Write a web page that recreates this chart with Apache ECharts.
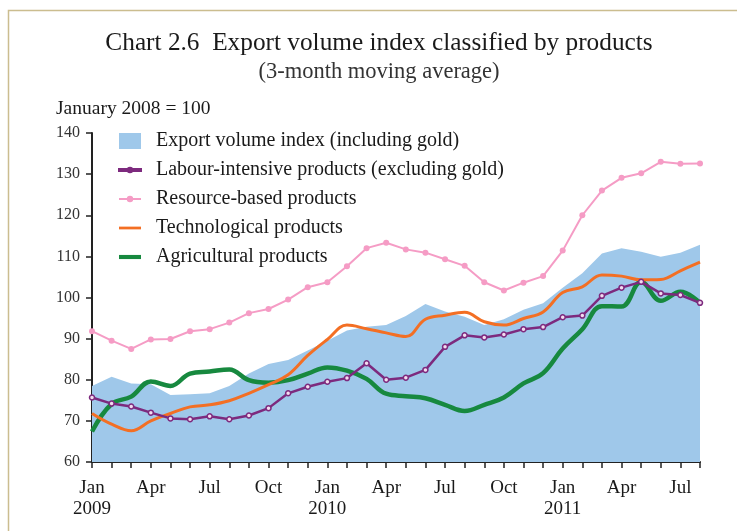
<!DOCTYPE html>
<html>
<head>
<meta charset="utf-8">
<script src="https://cdn.jsdelivr.net/npm/echarts@6/dist/echarts.min.js"></script>
<style>
	html, body { margin: 0; padding: 0; background: #fff; }
	#main { width: 737px; height: 531px; }
</style>
</head>
<body>
<div id="main"></div>
<script>
	// categories, Jan 2009 - Aug 2011
	var categories = [
		'Jan 2009', 'Feb 2009', 'Mar 2009', 'Apr 2009', 'May 2009', 'Jun 2009',
		'Jul 2009', 'Aug 2009', 'Sep 2009', 'Oct 2009', 'Nov 2009', 'Dec 2009',
		'Jan 2010', 'Feb 2010', 'Mar 2010', 'Apr 2010', 'May 2010', 'Jun 2010',
		'Jul 2010', 'Aug 2010', 'Sep 2010', 'Oct 2010', 'Nov 2010', 'Dec 2010',
		'Jan 2011', 'Feb 2011', 'Mar 2011', 'Apr 2011', 'May 2011', 'Jun 2011',
		'Jul 2011', 'Aug 2011'
	];
	var yTicks = [60, 140, 10]; // min, max, step

	var exportIndex = [78.5, 80.7, 79.1, 78.9, 76.3, 76.5, 76.7, 78.5, 81.5, 83.8, 84.8, 87.1,
		89.5, 92.0, 92.9, 93.3, 95.5, 98.4, 96.6, 95.3, 93.3, 94.7, 97.0, 98.6,
		102.4, 105.9, 110.7, 112.0, 111.1, 109.9, 110.9, 112.8];
	var labour = [75.7, 74.2, 73.5, 72.0, 70.6, 70.4, 71.1, 70.4, 71.3, 73.1, 76.7, 78.3,
		79.5, 80.4, 84.0, 80.0, 80.5, 82.4, 88.0, 90.8, 90.3, 91.0, 92.3, 92.8,
		95.2, 95.6, 100.4, 102.4, 103.8, 101.0, 100.6, 98.7];
	var resource = [91.8, 89.5, 87.5, 89.8, 89.9, 91.8, 92.3, 93.9, 96.2, 97.2, 99.5, 102.5,
		103.7, 107.6, 112.0, 113.3, 111.7, 110.9, 109.3, 107.7, 103.7, 101.7, 103.6, 105.2,
		111.4, 120.0, 126.0, 129.1, 130.2, 133.0, 132.5, 132.6];
	var techno = [71.8, 69.2, 67.6, 70.0, 71.8, 73.4, 73.9, 74.9, 76.7, 78.8, 81.2, 85.9,
		89.8, 93.3, 92.4, 91.4, 90.5, 94.7, 95.7, 96.4, 94.1, 93.3, 94.9, 96.5,
		101.2, 102.6, 105.5, 105.2, 104.3, 104.4, 106.5, 108.6];
	var agri = [67.4, 74.1, 75.9, 79.6, 78.5, 81.5, 82.0, 82.5, 79.9, 79.3, 79.9, 81.5,
		83.0, 82.2, 80.2, 76.6, 76.0, 75.5, 73.9, 72.4, 73.9, 75.7, 79.1, 81.6,
		87.6, 92.3, 97.9, 97.8, 103.8, 99.2, 101.4, 98.7];

	var serif = '"Liberation Serif", "DejaVu Serif", serif';
	var ink = '#1a1a1a';

	// 图例图标：线 + 圆点
	var iconDotSmall = 'path://M0,2.5 L24,2.5 L24,4.5 L0,4.5 Z M9.5,3.5 A2.5,2.5 0 1,1 14.5,3.5 A2.5,2.5 0 1,1 9.5,3.5 Z';
	var iconDotBig = 'path://M0,2.5 L24,2.5 L24,4.5 L0,4.5 Z M8.5,3.5 A3.5,3.5 0 1,1 15.5,3.5 A3.5,3.5 0 1,1 8.5,3.5 Z';
	var iconLineMid = 'path://M0,0 L24,0 L24,3 L0,3 Z';
	var iconLineThick = 'path://M0,0 L24,0 L24,4.5 L0,4.5 Z';

	var myChart = echarts.init(document.getElementById('main'));

	option = {
		backgroundColor: '#fff',
		animation: false,
		textStyle: { fontFamily: serif, color: ink },
		graphic: [
			{
				type: 'polyline',
				shape: { points: [[8.5, 540], [8.5, 10.5], [740, 10.5]] },
				style: { stroke: '#cbbd8f', lineWidth: 1.5, fill: null }
			},
			{
				type: 'text', x: 379, y: 43,
				style: { text: 'Chart 2.6  Export volume index classified by products', font: '25.3px ' + serif, fill: ink, textAlign: 'center', textVerticalAlign: 'middle' }
			},
			{
				type: 'text', x: 379, y: 72,
				style: { text: '(3-month moving average)', font: '22.5px ' + serif, fill: '#333', textAlign: 'center', textVerticalAlign: 'middle' }
			},
			{
				type: 'text', x: 56, y: 109,
				style: { text: 'January 2008 = 100', font: '19.5px ' + serif, fill: ink, textAlign: 'left', textVerticalAlign: 'middle' }
			}
		],
		legend: {
			orient: 'vertical',
			left: 118,
			top: 131,
			padding: 0,
			itemWidth: 22,
			itemHeight: 16,
			itemGap: 9,
			symbolKeepAspect: true,
			textStyle: { fontFamily: serif, fontSize: 20, color: ink, padding: [0, 0, 0, 10] },
			data: [
				{ name: 'Export volume index (including gold)', icon: 'rect' },
				{ name: 'Labour-intensive products (excluding gold)', icon: iconDotSmall },
				{ name: 'Resource-based products', icon: iconDotBig },
				{ name: 'Technological products', icon: iconLineMid },
				{ name: 'Agricultural products', icon: iconLineThick }
			]
		},
		grid: { left: 92, right: 37, top: 133, bottom: 69 },
		xAxis: {
			type: 'category',
			boundaryGap: false,
			data: categories,
			axisLine: { lineStyle: { color: '#222', width: 2 } },
			axisTick: { interval: 0, length: 6, lineStyle: { color: '#222', width: 1.5 } },
			axisLabel: {
				interval: function (i) { return i % 3 === 0; },
				fontFamily: serif, fontSize: 19, color: ink, lineHeight: 21, margin: 16,
				formatter: function (v) {
					var p = v.split(' ');
					return p[0] === 'Jan' ? p[0] + '\n' + p[1] : p[0];
				}
			}
		},
		yAxis: {
			type: 'value',
			min: yTicks[0], max: yTicks[1], interval: yTicks[2],
			splitLine: { show: false },
			axisLine: { show: true, lineStyle: { color: '#222', width: 2 } },
			axisTick: { show: true, length: 6, lineStyle: { color: '#222', width: 1.5 } },
			axisLabel: { fontFamily: serif, fontSize: 16, color: '#333', margin: 12 }
		},
		series: [
			{
				name: 'Export volume index (including gold)',
				type: 'line',
				data: exportIndex,
				symbol: 'none',
				color: '#9fc8ea',
				lineStyle: { width: 0 },
				areaStyle: { color: '#9fc8ea', opacity: 1, origin: 'start' },
				z: 1
			},
			{
				name: 'Agricultural products',
				type: 'line',
				data: agri,
				symbol: 'none',
				smooth: 0.4,
				color: '#17893f',
				lineStyle: { width: 4.5 },
				z: 2
			},
			{
				name: 'Technological products',
				type: 'line',
				data: techno,
				symbol: 'none',
				smooth: 0.4,
				color: '#f36f24',
				lineStyle: { width: 3 },
				z: 3
			},
			{
				name: 'Resource-based products',
				type: 'line',
				data: resource,
				symbol: 'circle',
				symbolSize: 6,
				color: '#f59cc5',
				lineStyle: { width: 2 },
				z: 4
			},
			{
				name: 'Labour-intensive products (excluding gold)',
				type: 'line',
				data: labour,
				symbol: 'circle',
				symbolSize: 5,
				color: '#7d2a7e',
				itemStyle: { color: '#f3dcef', borderColor: '#7d2a7e', borderWidth: 1.5 },
				lineStyle: { color: '#7d2a7e', width: 2.5 },
				z: 5
			}
		]
	};

	myChart.setOption(option);
</script>
</body>
</html>
